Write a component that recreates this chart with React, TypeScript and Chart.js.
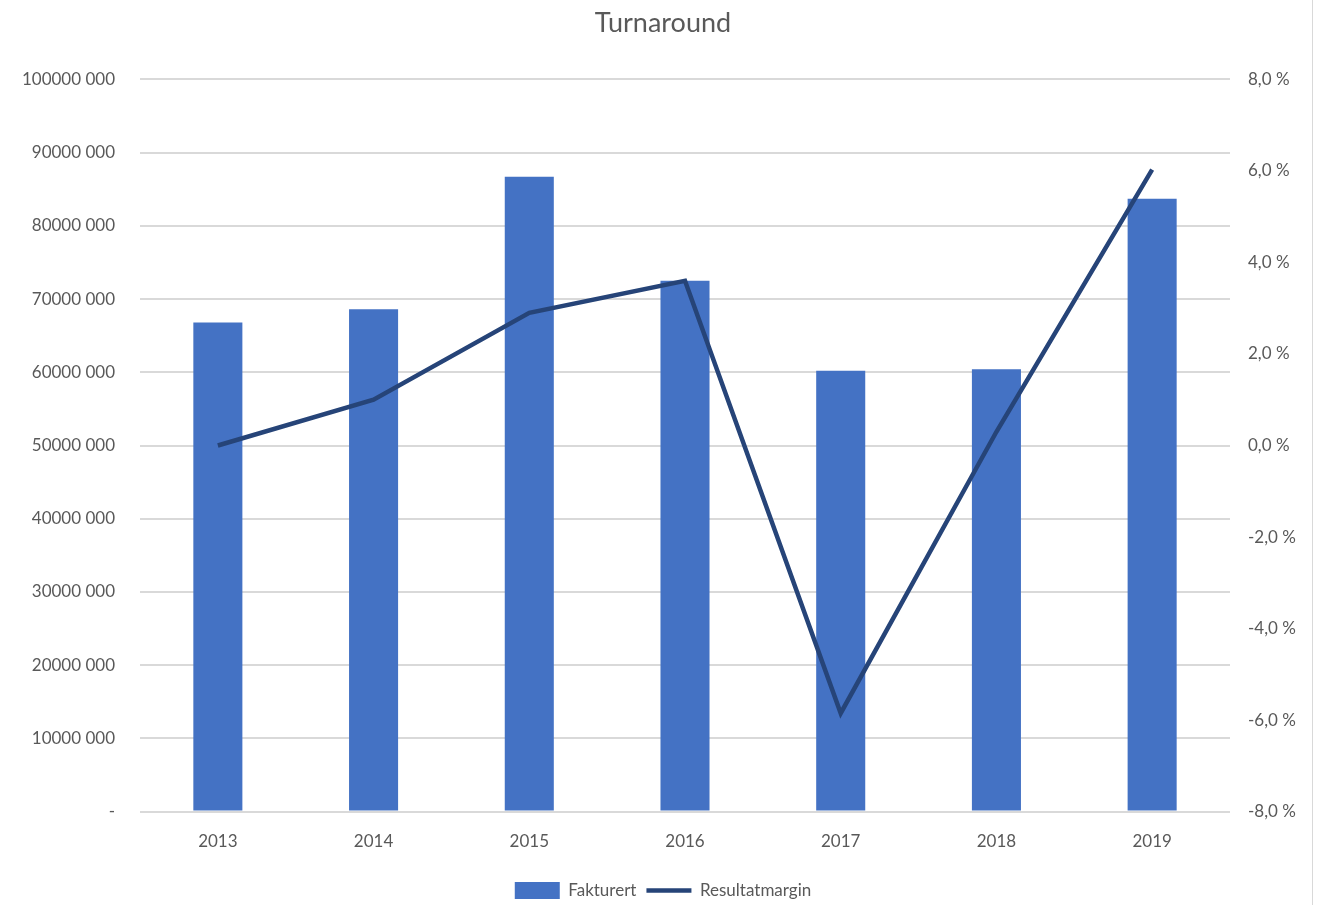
import React, { useEffect, useRef } from "react";
import { Chart, registerables } from "chart.js";

Chart.register(...registerables);

const categories = ["2013", "2014", "2015", "2016", "2017", "2018", "2019"];
const fakturert = [66800000, 68600000, 86700000, 72500000, 60200000, 60400000, 83700000];
const resultatmargin = [0.0, 1.0, 2.9, 3.6, -5.85, 0.3, 6.03];
const leftTicks = [0, 10000000, 20000000, 30000000, 40000000, 50000000, 60000000, 70000000, 80000000, 90000000, 100000000];
const rightTicks = [-8, -6, -4, -2, 0, 2, 4, 6, 8];

const FONT = "Lato, 'Noto Sans', sans-serif";
const TEXT = "#595959";
const GRID = "#d9d9d9";

function fmtLeft(v: number): string {
  if (v === 0) return "-";
  return Math.floor(v / 1000) + " 000";
}
function fmtRight(v: number): string {
  return v.toFixed(1).replace(".", ",") + " %";
}

export default function App() {
  const ref = useRef<HTMLCanvasElement | null>(null);
  useEffect(() => {
    document.body.style.margin = "0";
    const ctx = ref.current!.getContext("2d")!;
    const chart = new Chart(ctx, {
      type: "bar",
      data: {
        labels: categories,
        datasets: [
          {
            type: "bar",
            label: "Fakturert",
            data: fakturert,
            backgroundColor: "#4472C4",
            borderWidth: 0,
            yAxisID: "y",
            categoryPercentage: 1,
            barPercentage: 0.315,
            order: 2,
            pointStyle: "rect",
          } as any,
          {
            type: "line",
            label: "Resultatmargin",
            data: resultatmargin,
            borderColor: "#264478",
            backgroundColor: "#264478",
            borderWidth: 4.5,
            pointRadius: 0,
            tension: 0,
            yAxisID: "y1",
            order: 1,
            pointStyle: "line",
          } as any,
        ],
      },
      options: {
        responsive: false,
        animation: false,
        layout: { padding: { top: 0, bottom: -4, left: 0, right: 0 } },
        plugins: {
          title: {
            display: true,
            text: "Turnaround",
            color: TEXT,
            font: { family: FONT, size: 27, weight: "normal" },
            padding: { top: 7, bottom: 40 },
          },
          legend: {
            position: "bottom",
            labels: {
              usePointStyle: true,
              pointStyleWidth: 45,
              boxHeight: 17,
              color: TEXT,
              font: { family: FONT, size: 17 },
              padding: 10,
              sort: (a: any, b: any) => a.datasetIndex - b.datasetIndex,
            },
          },
          tooltip: { enabled: false },
        },
        scales: {
          x: {
            grid: { display: false, drawTicks: false },
            border: { display: false },
            ticks: { color: TEXT, font: { family: FONT, size: 17 }, padding: 20 },
          },
          y: {
            position: "left",
            min: 0,
            max: 100000000,
            afterBuildTicks: (s: any) => {
              s.ticks = leftTicks.map((v) => ({ value: v }));
            },
            afterFit: (s: any) => {
              s.width = 140;
            },
            grid: { color: GRID, lineWidth: 2, drawTicks: false },
            border: { display: false },
            ticks: {
              color: TEXT,
              font: { family: FONT, size: 17 },
              padding: 25,
              callback: (v: any) => fmtLeft(Number(v)),
            },
          },
          y1: {
            position: "right",
            min: -8,
            max: 8,
            afterBuildTicks: (s: any) => {
              s.ticks = rightTicks.map((v) => ({ value: v }));
            },
            afterFit: (s: any) => {
              s.width = 96;
            },
            grid: { display: false, drawTicks: false },
            border: { display: false },
            ticks: {
              color: TEXT,
              font: { family: FONT, size: 17 },
              padding: 18,
              callback: (v: any) => fmtRight(Number(v)),
            },
          },
        },
      } as any,
    });
    return () => chart.destroy();
  }, []);
  return (
    <div style={{ position: "absolute", left: 0, top: 0, width: 1326, height: 905, background: "#fff" }}>
      <canvas ref={ref} width={1326} height={905} style={{ width: 1326, height: 905, display: "block" }} />
      <div style={{ position: "absolute", left: 1312, top: 0, width: 1, height: 905, background: GRID }} />
    </div>
  );
}
